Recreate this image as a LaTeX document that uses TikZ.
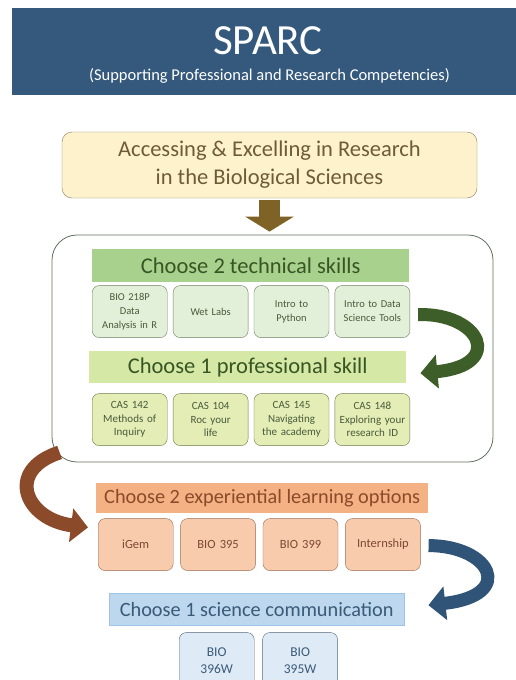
\documentclass[tikz,border=0pt]{standalone}
\usepackage{fontspec}
\setmainfont{Carlito}
\usetikzlibrary{arrows.meta,positioning,calc}

\definecolor{bannerblue}{HTML}{34597C}
\definecolor{goldfill}{HTML}{FEF2CD}
\definecolor{goldline}{HTML}{8C7B55}
\definecolor{goldtext}{HTML}{6D5D37}
\definecolor{goldarrow}{HTML}{7F6226}
\definecolor{framegray}{HTML}{5F6E60}
\definecolor{techgreen}{HTML}{A9D18E}
\definecolor{techtext}{HTML}{375623}
\definecolor{techfill}{HTML}{E2F0D9}
\definecolor{techline}{HTML}{6F7F60}
\definecolor{greenarrow}{HTML}{3D5E28}
\definecolor{proflime}{HTML}{D6E8A6}
\definecolor{proffill}{HTML}{E3EDB5}
\definecolor{profline}{HTML}{6A7A4A}
\definecolor{boxtext}{HTML}{4A5A3C}
\definecolor{brownarrow}{HTML}{8B4A2A}
\definecolor{exporange}{HTML}{F4B183}
\definecolor{expfill}{HTML}{F8CBAD}
\definecolor{expline}{HTML}{9A6A50}
\definecolor{exptext}{HTML}{7B4A30}
\definecolor{bluearrow}{HTML}{2F5477}
\definecolor{sciblue}{HTML}{BDD7EE}
\definecolor{sciline}{HTML}{9DC3E6}
\definecolor{scifill}{HTML}{DEEBF7}
\definecolor{scibox}{HTML}{56657A}
\definecolor{scitext}{HTML}{3A5A78}

\begin{document}
\begin{tikzpicture}[
    x=1pt, y=-1pt,
    banner/.style={fill=bannerblue, anchor=north west, inner sep=0pt,
      minimum width=508pt, minimum height=87pt},
    topic/.style={draw=goldline, fill=goldfill, rounded corners=10pt,
      minimum width=415pt, minimum height=66pt, align=center,
      text=goldtext, font=\fontsize{22.5}{28}\selectfont},
    frame/.style={draw=framegray, thick, rounded corners=25pt,
      minimum width=441pt, minimum height=227pt},
    bar/.style={anchor=north west, inner sep=0pt, font=\fontsize{22.5}{26}\selectfont},
    option/.style={draw, rounded corners=7pt, minimum width=75pt, minimum height=52pt,
      text width=74pt, inner sep=0.5pt, align=center,
      font=\fontsize{10.5}{14}\selectfont},
    techbox/.style={option, fill=techfill, draw=techline, text=boxtext},
    profbox/.style={option, fill=proffill, draw=profline, text=boxtext,
      font=\fontsize{11}{13.5}\selectfont},
    expbox/.style={option, fill=expfill, draw=expline, text=exptext,
      font=\fontsize{12.5}{14}\selectfont},
    scibox/.style={option, fill=scifill, draw=scibox, text=scitext,
      minimum height=56pt, font=\fontsize{13.5}{17}\selectfont},
    downarrow/.style={draw=goldarrow, line width=21pt,
      -{Triangle[width=48pt,length=15pt]}, shorten <=2pt, shorten >=3pt},
    curvearrow/.style={line width=13pt, -{Triangle[width=33pt,length=17pt]}}
  ]
    \useasboundingbox (0,0) rectangle (515,680);

    % title banner
    \node[banner] (banner) at (12,8) {};
    \node[text=white, font=\fontsize{43}{48}\selectfont] (sparc) at (268,41) {SPARC};
    \node[text=white, font=\fontsize{16.5}{19}\selectfont] (subtitle) at (269.5,76)
      {(Supporting Professional and Research Competencies)};

    \node[topic] (topic) at (269.5,165) {Accessing \& Excelling in Research\\in the Biological Sciences};
    \node[frame] (frame) at (272.5,348.5) {};
    \draw[downarrow] (topic.south) -- (topic.south |- frame.north);

    % technical skills
    \node[bar, fill=techgreen, text=techtext, minimum width=317pt, minimum height=33pt]
      (techbar) at (92,249) {Choose 2 technical skills};
    \node[techbox, below right=3pt and 0pt of techbar.south west] (tech1) {BIO 218P\\Data\\Analysis in R};
    \node[techbox, right=5.5pt of tech1] (tech2) {Wet Labs};
    \node[techbox, right=5.5pt of tech2] (tech3) {Intro to\\Python};
    \node[techbox, right=5.5pt of tech3] (tech4) {Intro to Data\\Science Tools};

    % professional skill
    \node[bar, fill=proflime, text=techtext, minimum width=317pt, minimum height=32pt]
      (profbar) at (89,351) {Choose 1 professional skill};
    \node[profbox, below right=10pt and 3pt of profbar.south west] (prof1) {CAS 142\\Methods of\\Inquiry};
    \node[profbox, right=5.5pt of prof1] (prof2) {CAS 104\\Roc your\\life};
    \node[profbox, right=5.5pt of prof2] (prof3) {CAS 145\\Navigating\\the academy};
    \node[profbox, right=5.5pt of prof3] (prof4) {CAS 148\\Exploring your\\research ID};

    % experiential learning
    \node[bar, fill=exporange, text=brownarrow, minimum width=332pt, minimum height=30pt,
      font=\fontsize{20.3}{24}\selectfont]
      (expbar) at (96,483) {Choose 2 experiential learning options};
    \node[expbox, below right=5pt and 2pt of expbar.south west] (exp1) {iGem};
    \node[expbox, right=7pt of exp1] (exp2) {BIO 395};
    \node[expbox, right=7pt of exp2] (exp3) {BIO 399};
    \node[expbox, right=7pt of exp3] (exp4) {Internship};

    % science communication
    \node[bar, fill=sciblue, draw=sciline, text=scitext, minimum width=295pt, minimum height=32pt,
      font=\fontsize{20.3}{24}\selectfont]
      (scibar) at (109,593) {Choose 1 science communication};
    \node[scibox, below right=7pt and 70pt of scibar.south west] (sci1) {BIO\\396W};
    \node[scibox, right=8pt of sci1] (sci2) {BIO\\395W};

    % curved arrows between the steps
    \draw[curvearrow, draw=greenarrow] ($(tech4.east)+(8,3)$)
      .. controls +(62,-2) and +(85,-8) .. ($(profbar.east)+(14,6)$);
    \draw[curvearrow, draw=brownarrow, line width=14pt] ($(frame.south west)+(8,-10)$)
      .. controls +(-55,18) and +(-63,-8) .. ($(exp1.north west)+(-10,9)$);
    \draw[curvearrow, draw=bluearrow] ($(exp4.east)+(8,1)$)
      .. controls +(62,0) and +(88,-10) .. ($(scibar.east)+(24,-4)$);
  \end{tikzpicture}
\end{document}
